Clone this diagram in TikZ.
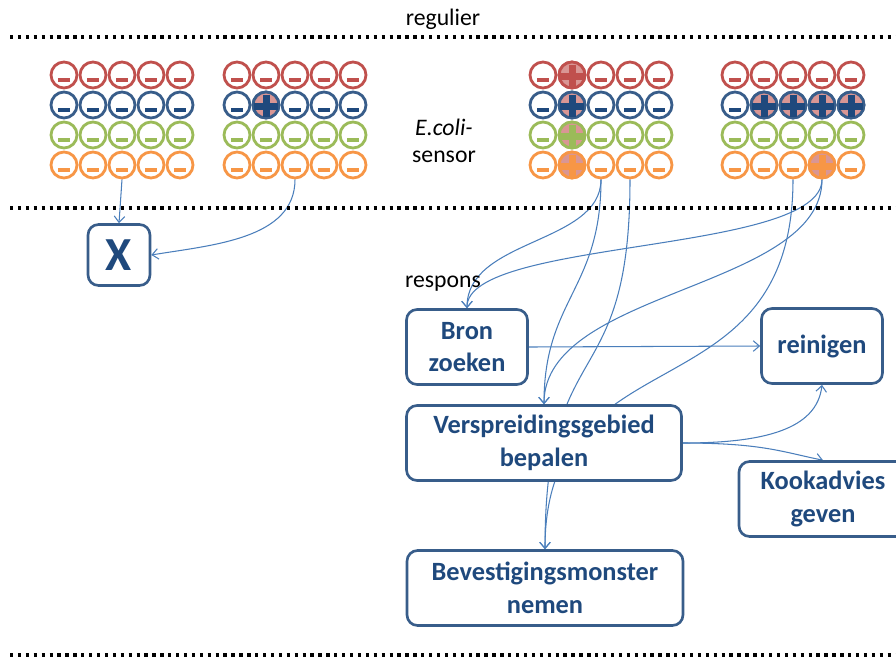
\documentclass[tikz,border=0pt]{standalone}
\usepackage{fontspec}
\setmainfont{Carlito}
\usetikzlibrary{arrows.meta,calc,backgrounds}
\definecolor{ecred}{RGB}{192,80,77}
\definecolor{ecblue}{RGB}{56,93,138}
\definecolor{ecnavy}{RGB}{31,73,125}
\definecolor{ecgreen}{RGB}{155,187,89}
\definecolor{ecorange}{RGB}{247,150,70}
\definecolor{hitfill}{RGB}{217,150,148}
\definecolor{linkblue}{RGB}{74,126,187}
\definecolor{boxedge}{RGB}{56,93,138}

\begin{document}
\begin{tikzpicture}[x=0.02cm,y=-0.02cm]
\tikzset{cell/.style={circle,draw,fill=white,line width=1.6pt,minimum size=0.52cm,inner sep=0pt}}
\tikzset{act/.style={draw=boxedge,line width=1.5pt,rounded corners=6pt,fill=white,text=ecnavy,align=center,font=\bfseries\fontsize{15}{18.5}\selectfont,minimum height=1.5cm}}
\tikzset{link/.style={-{Straight Barb[length=3.5pt,width=6pt]},linkblue,line width=0.6pt}}
\tikzset{sep/.style={line width=1.9pt,dash pattern=on 1.9pt off 2.6pt}}
\tikzset{lbl/.style={font=\fontsize{13.5}{15.5}\selectfont}}
\useasboundingbox (0,0) rectangle (896,657);
\clip (0,0) rectangle (896,657);
% separators
\draw[sep] (10,37) -- (896,37);
\draw[sep] (10,208) -- (896,208);
\draw[sep] (10,655) -- (896,655);
\node[lbl] (regulier) at (443,19) {regulier};
\node[lbl,align=center] (sensor) at (444,141) {\textit{E.coli-}\\sensor};
\node[lbl] (respons) at (443,284) {respons};
% sensor arrays
\foreach \g/\gx in {a/64,b/237,c/543,d/735}
  \foreach \r/\rc/\sc in {1/ecred/ecred,2/ecblue/ecnavy,3/ecgreen/ecgreen,4/ecorange/ecorange}
    \foreach \c in {1,...,5} {
      \node[cell,draw=\rc] (\g-\c-\r) at ({\gx+29*(\c-1)},{45+30*\r}) {};
      \fill[\sc] ($(\g-\c-\r)+(-6,3)$) rectangle +(12,4);
    }
% switched cells
\foreach \p/\rc/\sc in {b-2-2/ecblue/ecnavy,c-2-1/ecred/ecred,c-2-2/ecblue/ecnavy,c-2-3/ecgreen/ecgreen,c-2-4/ecorange/ecorange,d-2-2/ecblue/ecnavy,d-3-2/ecblue/ecnavy,d-4-2/ecblue/ecnavy,d-5-2/ecblue/ecnavy,d-4-4/ecorange/ecorange} {
  \filldraw[fill=hitfill,draw=\rc,line width=1.6pt] (\p) circle[radius=0.26cm];
  \fill[\sc] ($(\p)+(-12,-2.5)$) rectangle +(24,7);
  \fill[\sc] ($(\p)+(-3.5,-10)$) rectangle +(7,22);
}
% actions
\node[act,minimum width=1.24cm,minimum height=1.22cm,font=\bfseries\fontsize{27}{30}\selectfont] (x) at (119,255) {X};
\node[act,minimum width=2.42cm] (bron) at (467,347) {Bron\\zoeken};
\node[act,minimum width=2.42cm] (reinigen) at (822,346) {reinigen};
\node[act,minimum width=5.5cm] (gebied) at (544,443) {Verspreidingsgebied\\bepalen};
\node[act,minimum width=3.36cm] (kook) at (823,499) {Kookadvies\\geven};
\node[act,minimum width=5.52cm] (monster) at (545,588) {Bevestigingsmonster\\nemen};
\begin{scope}[on background layer]
\draw[link] (a-3-4.south) -- (x.north);
\draw[link] (b-3-4.south) .. controls +(0,60) and +(60,-10) .. (x.east);
\draw[link] (c-3-4.south) .. controls +(0,65) and +(0,-70) .. (bron.north);
\draw[link] (d-4-4.south) .. controls +(0,75) and +(0,-70) .. (bron.north);
\draw[link] (c-3-4.south) .. controls +(0,110) and +(0,-105) .. (gebied.north);
\draw[link] (d-4-4.south) .. controls +(0,110) and +(0,-115) .. (gebied.north);
\draw[link] (c-4-4.south) .. controls +(0,220) and +(0,-220) .. (monster.north);
\draw[link] (d-3-4.south) .. controls +(0,240) and +(0,-220) .. (monster.north);
\draw[link] (bron.east) -- (reinigen.west);
\draw[link] (gebied.east) .. controls +(80,0) and +(-5,45) .. (reinigen.south);
\draw[link] (gebied.east) .. controls +(80,0) and +(-40,-8) .. (kook.north);
\end{scope}
\end{tikzpicture}
\end{document}
